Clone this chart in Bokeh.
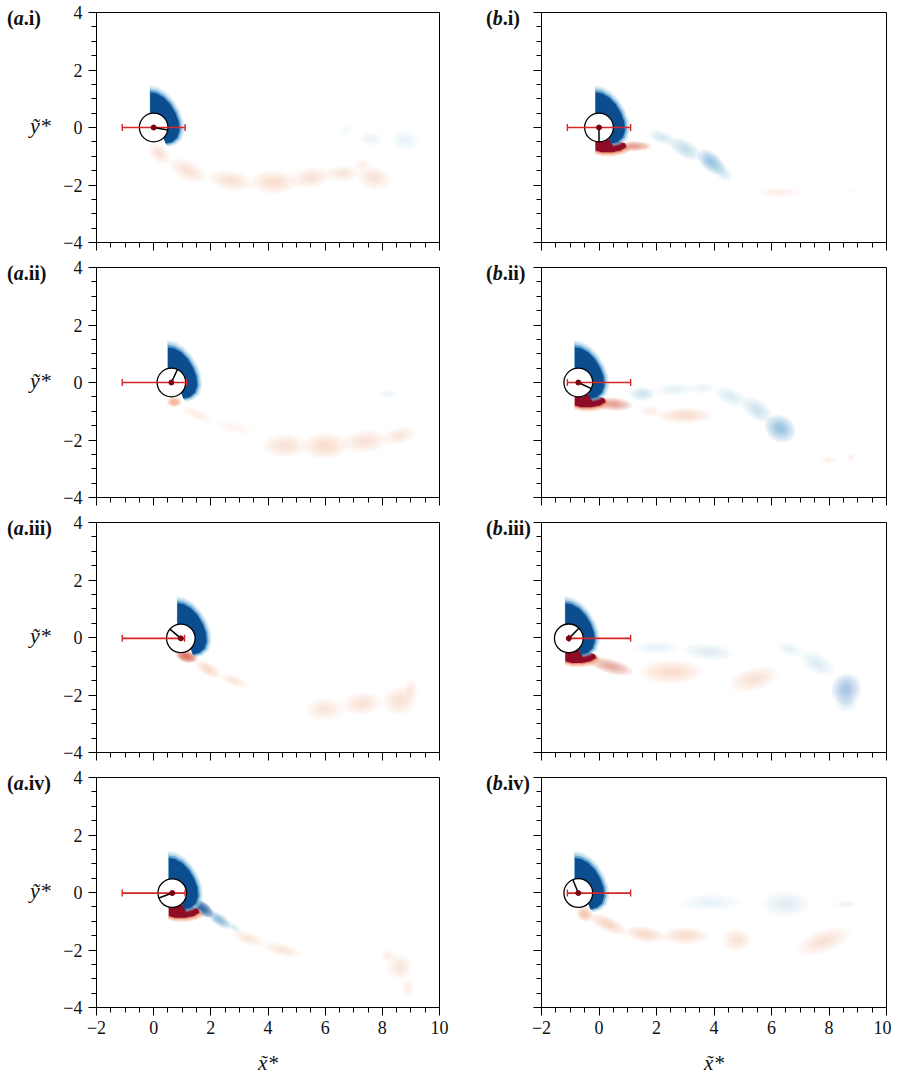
import numpy as np
from bokeh.plotting import figure
from bokeh.models import Range1d, SingleIntervalTicker, ColumnDataSource, Div
from bokeh.layouts import column, row
from bokeh.embed import file_html
from bokeh.resources import INLINE

# ---------------- data ----------------
PANEL_LETTER = ["a", "a", "a", "a", "b", "b", "b", "b"]
PANEL_ROMAN = ["i", "ii", "iii", "iv", "i", "ii", "iii", "iv"]
Y_LABEL = "\u1ef9*"
X_LABEL = "x\u0303*"

CYL_X = [0.0, 0.62, 0.95, 0.65, 0.0, -0.72, -1.05, -0.72]
CYL_Y = [0.0, 0.0, -0.03, -0.02, 0.0, 0.0, -0.03, -0.02]
ROT_DEG = [-10, 65, 140, 200, 270, -25, 45, 112]
BAR_LO = [-1.1, -1.1, -1.1, -1.1, -1.1, -1.1, -1.05, -1.1]
BAR_HI = [1.1, 1.15, 1.08, 1.1, 1.1, 1.1, 1.1, 1.1]
LOWER_CORE = [None, None, None, "dr", "dr", "dr", "dr", None]

# upper shear layer outline, relative to cylinder centre
UP_DX = [-0.12, -0.12, 0.1, 0.35, 0.58, 0.76, 0.87, 0.9, 0.82, 0.64, 0.42, 0.2, 0.0]
UP_DY = [0.2, 1.22, 1.18, 1.04, 0.8, 0.5, 0.2, -0.1, -0.35, -0.5, -0.56, 0.0, 0.2]
# lower shear layer core outline, relative to cylinder centre
LOW_DX = [-0.12, -0.12, 0.1, 0.45, 0.75, 0.95, 0.9, 0.6, 0.3, 0.0]
LOW_DY = [-0.3, -0.8, -0.86, -0.86, -0.8, -0.68, -0.55, -0.45, -0.4, -0.3]

# wake vorticity blobs: (x, y, width, height, angle_deg, colour, alpha)
WAKE_AI = [
    (0.2, -0.9, 0.9, 0.6, -45, "lr", 0.3), (1.2, -1.5, 1.4, 0.7, -25, "lr", 0.3),
    (2.7, -1.85, 1.6, 0.7, -8, "lr", 0.3), (4.2, -1.9, 1.6, 0.8, 0, "lr", 0.35),
    (5.5, -1.75, 1.4, 0.7, 10, "lr", 0.3), (6.6, -1.6, 1.2, 0.6, 0, "lr", 0.25),
    (7.7, -1.75, 1.2, 0.8, -10, "lr", 0.3), (7.3, -1.3, 0.6, 0.4, 0, "lr", 0.2),
    (8.8, -0.45, 1.0, 0.7, 0, "lb", 0.2), (7.6, -0.4, 0.9, 0.5, 0, "lb", 0.15),
    (6.7, -0.1, 0.5, 0.4, 0, "lb", 0.12),
]
WAKE_AII = [
    (0.72, -0.68, 0.5, 0.35, 0, "lr", 0.8), (1.5, -1.1, 1.2, 0.4, -25, "lr", 0.2),
    (2.8, -1.55, 1.4, 0.4, -15, "lr", 0.15), (4.6, -2.2, 1.6, 0.8, 0, "lr", 0.3),
    (6.0, -2.2, 1.6, 0.9, 0, "lr", 0.35), (7.4, -2.05, 1.6, 0.8, 5, "lr", 0.3),
    (8.6, -1.85, 1.2, 0.6, 10, "lr", 0.25), (8.2, -0.4, 0.6, 0.3, 0, "lb", 0.15),
]
WAKE_AIII = [
    (1.15, -0.66, 0.75, 0.4, -15, "mr", 0.85), (1.9, -1.1, 1.0, 0.45, -30, "lr", 0.4),
    (2.8, -1.5, 1.0, 0.4, -20, "lr", 0.25), (6.0, -2.5, 1.4, 0.8, 0, "lr", 0.25),
    (7.3, -2.3, 1.4, 0.8, 5, "lr", 0.3), (8.6, -2.2, 1.2, 1.0, 20, "lr", 0.3),
    (9.0, -1.8, 0.5, 0.8, 0, "lr", 0.2),
]
WAKE_AIV = [
    (1.7, -0.55, 0.9, 0.45, -35, "db", 0.8), (2.3, -0.95, 0.9, 0.4, -35, "mb", 0.5),
    (2.8, -1.2, 0.6, 0.3, -30, "lb", 0.3), (3.3, -1.6, 1.2, 0.45, -20, "lr", 0.25),
    (4.5, -2.0, 1.4, 0.45, -15, "lr", 0.25), (8.6, -2.6, 0.9, 0.9, 0, "lr", 0.25),
    (8.9, -3.3, 0.5, 0.6, 0, "lr", 0.2), (8.2, -2.2, 0.6, 0.4, 0, "lr", 0.2),
]
WAKE_BI = [
    (1.2, -0.65, 1.0, 0.35, 0, "mr", 0.6), (1.6, -0.65, 0.5, 0.3, 0, "lr", 0.4),
    (2.2, -0.35, 1.0, 0.45, -20, "lb", 0.35), (3.0, -0.75, 1.2, 0.6, -30, "lb", 0.5),
    (3.9, -1.2, 1.1, 0.65, -40, "mb", 0.45), (4.3, -1.55, 0.8, 0.5, -45, "lb", 0.35),
    (6.2, -2.25, 1.5, 0.35, 0, "lr", 0.2), (8.9, -2.2, 0.3, 0.2, 0, "lr", 0.1),
]
WAKE_BII = [
    (0.5, -0.75, 1.3, 0.45, -5, "mr", 0.55), (1.5, -0.4, 0.9, 0.5, 0, "lb", 0.45),
    (2.6, -0.25, 1.4, 0.5, 0, "lb", 0.2), (3.6, -0.2, 1.0, 0.4, 0, "lb", 0.15),
    (4.6, -0.5, 1.2, 0.6, -20, "lb", 0.3), (5.5, -0.95, 1.2, 0.7, -35, "lb", 0.4),
    (6.3, -1.6, 1.1, 0.9, -30, "mb", 0.45), (3.0, -1.15, 1.9, 0.55, 0, "lr", 0.35),
    (1.8, -1.0, 0.8, 0.4, 0, "lr", 0.2), (8.0, -2.7, 0.6, 0.25, 0, "lr", 0.2),
    (8.75, -2.6, 0.3, 0.25, 0, "lr", 0.2),
]
WAKE_BIII = [
    (0.4, -1.0, 1.6, 0.5, -15, "mr", 0.5), (2.5, -1.2, 2.2, 0.8, 0, "lr", 0.35),
    (5.4, -1.45, 1.8, 0.8, 15, "lr", 0.3), (2.0, -0.35, 1.6, 0.5, 0, "lb", 0.2),
    (3.8, -0.5, 1.8, 0.6, -5, "lb", 0.25), (6.6, -0.4, 1.0, 0.5, -20, "lb", 0.2),
    (7.6, -0.9, 1.3, 0.7, -30, "lb", 0.3), (8.6, -1.8, 1.0, 1.1, -20, "mb", 0.4),
    (8.6, -2.3, 0.8, 0.6, 0, "lb", 0.3),
]
WAKE_BIV = [
    (-0.5, -0.75, 0.6, 0.5, -30, "lr", 0.6), (0.3, -1.1, 1.4, 0.5, -25, "lr", 0.45),
    (1.6, -1.45, 1.4, 0.55, -10, "lr", 0.4), (3.0, -1.5, 1.6, 0.6, 0, "lr", 0.35),
    (4.8, -1.65, 1.0, 0.8, 0, "lr", 0.3), (7.8, -1.7, 2.0, 0.8, 20, "lr", 0.3),
    (3.9, -0.35, 2.2, 0.6, 0, "lb", 0.2), (6.5, -0.4, 1.7, 0.9, 0, "lb", 0.25),
    (8.6, -0.4, 0.8, 0.3, 0, "lb", 0.15),
]
WAKES = [WAKE_AI, WAKE_AII, WAKE_AIII, WAKE_AIV, WAKE_BI, WAKE_BII, WAKE_BIII, WAKE_BIV]

X_TICKS = [-2, 0, 2, 4, 6, 8, 10]
Y_TICKS = [-4, -2, 0, 2, 4]

# ---------------- style ----------------
COLORS = {"db": "#0b4d8f", "mb": "#2f7fbf", "lb": "#92c5de",
          "dr": "#8e0c25", "mr": "#d6604d", "lr": "#f4a582"}
FONT = "Liberation Serif"
FH = 230
LAYER_SCALES = [1.0, 0.85, 0.7, 0.55, 0.4, 0.25]
DIV_W = [60, 78]


def minus(v):
    return ("\u2212%d" % -v) if v < 0 else "%d" % v


def borders(r):
    top = 12
    bot = 72 if r == 3 else 13
    return top, bot


def make_panel(i, col, r):
    left = col == 0
    bottom = r == 3
    fw = 343 if left else 345
    top, bot = borders(r)
    p = figure(frame_width=fw, frame_height=FH,
               x_range=Range1d(-2, 10), y_range=Range1d(-4, 4),
               output_backend="svg", toolbar_location=None,
               min_border_left=35 if left else 10,
               min_border_right=14 if left else 5,
               min_border_top=top, min_border_bottom=bot,
               background_fill_color="white", border_fill_color="white")
    p.grid.visible = False
    p.outline_line_color = "black"
    p.outline_line_width = 1
    p.outline_line_alpha = 1

    for ax, ticks in ((p.xaxis[0], X_TICKS), (p.yaxis[0], Y_TICKS)):
        ax.ticker = SingleIntervalTicker(interval=2, num_minor_ticks=4)
        ax.axis_line_color = "black"
        ax.major_tick_line_color = "black"
        ax.minor_tick_line_color = "black"
        ax.major_tick_out = 8
        ax.major_tick_in = 0
        ax.minor_tick_out = 5
        ax.minor_tick_in = 0
        ax.major_label_text_font = FONT
        ax.major_label_text_font_size = "18px"
        ax.major_label_text_color = "#111111"
        ax.major_label_overrides = {float(t): minus(t) for t in ticks}
    p.xaxis.major_label_standoff = 5
    p.yaxis.major_label_standoff = 6
    if not bottom:
        p.xaxis.major_label_overrides = {float(t): "" for t in X_TICKS}
        p.xaxis.major_label_text_font_size = "1px"
        p.xaxis.major_label_standoff = 0
    else:
        p.xaxis.axis_label = X_LABEL
        p.xaxis.axis_label_text_font = FONT
        p.xaxis.axis_label_text_font_style = "italic"
        p.xaxis.axis_label_text_font_size = "21px"
        p.xaxis.axis_label_standoff = 14
        p.xaxis.axis_label_text_color = "#111111"
    if not left:
        p.yaxis.major_label_overrides = {float(t): "" for t in Y_TICKS}
        p.yaxis.major_label_text_font_size = "1px"
        p.yaxis.major_label_standoff = 0

    cx, cy = CYL_X[i], CYL_Y[i]

    # wake blobs (soft edges with concentric layers)
    xs, ys, ws, hs, angs, cols, alphas = [], [], [], [], [], [], []
    for (bx, by, bw, bh, ba, ck, a) in WAKES[i]:
        la = 1 - (1 - a) ** (1.0 / len(LAYER_SCALES))
        for s in LAYER_SCALES:
            xs.append(bx); ys.append(by)
            ws.append(bw * s); hs.append(bh * s)
            angs.append(np.deg2rad(ba)); cols.append(COLORS[ck]); alphas.append(la)
    src = ColumnDataSource(dict(x=xs, y=ys, w=ws, h=hs, a=angs, c=cols, al=alphas))
    p.ellipse(x="x", y="y", width="w", height="h", angle="a", fill_color="c",
              fill_alpha="al", line_color=None, source=src)

    # lower shear layer core
    if LOWER_CORE[i]:
        for sc, ck, a in ((1.16, "lr", 0.35), (1.1, "lr", 0.5), (1.05, "mr", 0.6),
                          (1.0, LOWER_CORE[i], 1.0)):
            p.patch(cx + sc * np.array(LOW_DX), cy + sc * np.array(LOW_DY),
                    fill_color=COLORS[ck], fill_alpha=a, line_color=None)

    # upper shear layer
    for sc, ck, a in ((1.2, "lb", 0.3), (1.14, "lb", 0.5), (1.08, "mb", 0.55),
                      (1.03, "mb", 0.7), (1.0, "db", 1.0)):
        p.patch(cx + sc * np.array(UP_DX), cy + sc * np.array(UP_DY),
                fill_color=COLORS[ck], fill_alpha=a, line_color=None)

    # cylinder
    p.circle(x=[cx], y=[cy], radius=0.5, fill_color="white",
             line_color="black", line_width=1.3)
    # red error bar
    red = "#d62728"
    p.segment(x0=[BAR_LO[i]], y0=[cy], x1=[BAR_HI[i]], y1=[cy],
              line_color=red, line_width=1.6)
    p.scatter(x=[BAR_LO[i], BAR_HI[i]], y=[cy, cy], marker="dash", angle=np.pi / 2,
              size=7, line_color=red, line_width=1.4)
    # rotation indicator
    th = np.deg2rad(ROT_DEG[i])
    p.segment(x0=[cx], y0=[cy], x1=[cx + 0.5 * np.cos(th)], y1=[cy + 0.5 * np.sin(th)],
              line_color="black", line_width=1.5)
    p.scatter(x=[cx], y=[cy], size=5, fill_color="#7a0010", line_color="#7a0010")
    return p


def make_label_div(i, col, r):
    top, bot = borders(r)
    h = top + FH + bot
    lab_left = 7 if col == 0 else 33
    html = ('<div style="position:relative;width:%dpx;height:%dpx;'
            'font-family:\'Liberation Serif\',serif;color:#111111;">' % (DIV_W[col], h))
    html += ('<div style="position:absolute;left:%dpx;top:%dpx;font-size:20px;'
             'font-weight:bold;line-height:1;white-space:nowrap;">(<i>%s</i>.%s)</div>'
             % (lab_left, top - 4, PANEL_LETTER[i], PANEL_ROMAN[i]))
    if col == 0:
        html += ('<div style="position:absolute;left:30px;top:%dpx;font-size:22px;'
                 'font-style:italic;line-height:1;white-space:nowrap;">%s</div>'
                 % (top + FH // 2 - 12, Y_LABEL))
    html += '</div>'
    return Div(text=html, width=DIV_W[col], height=h, margin=0)


rows = []
for r in range(4):
    rows.append(row(make_label_div(r, 0, r), make_panel(r, 0, r),
                    make_label_div(4 + r, 1, r), make_panel(4 + r, 1, r)))
layout = column(*rows)

open("out.html", "w").write(file_html(layout, INLINE))
